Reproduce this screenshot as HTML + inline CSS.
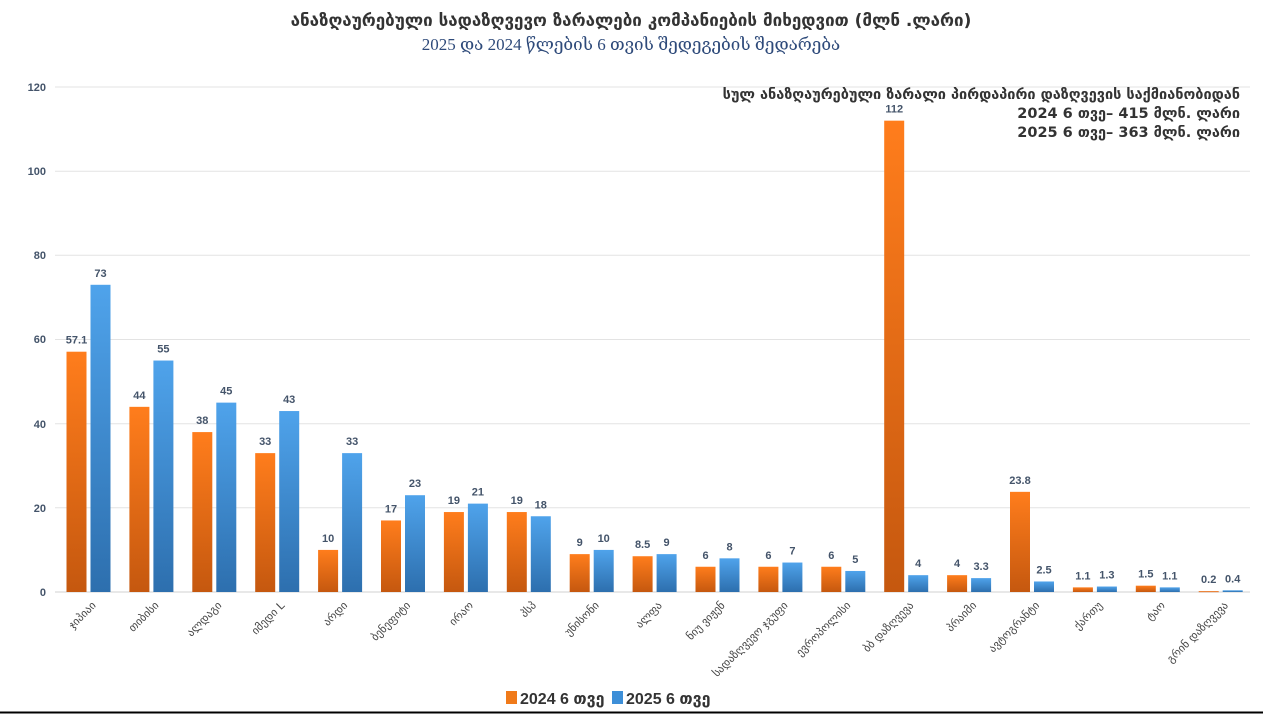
<!DOCTYPE html>
<html><head><meta charset="utf-8"><style>
body{margin:0;background:#fff;}
svg{display:block;font-family:"DejaVu Sans","Liberation Sans",sans-serif;}
</style></head><body>
<svg width="1263" height="714" viewBox="0 0 1263 714" xmlns="http://www.w3.org/2000/svg">
<defs>
<linearGradient id="o" x1="0" y1="0" x2="0" y2="1"><stop offset="0" stop-color="#ff7d1c"/><stop offset="1" stop-color="#c5580f"/></linearGradient>
<linearGradient id="b" x1="0" y1="0" x2="0" y2="1"><stop offset="0" stop-color="#4fa3eb"/><stop offset="1" stop-color="#2d6fae"/></linearGradient>
</defs>
<text x="631" y="26" text-anchor="middle" font-size="17" font-weight="bold" fill="#333">ანაზღაურებული სადაზღვევო ზარალები კომპანიების მიხედვით (მლნ .ლარი)</text>
<text x="631" y="50" text-anchor="middle" font-size="17" fill="#2e4a7a" font-family="Liberation Serif, DejaVu Serif, serif">2025 და 2024 წლების 6 თვის შედეგების შედარება</text>
<g font-size="11" font-weight="bold" fill="#44546a" font-family="Liberation Sans, sans-serif" text-anchor="end">
<text x="46" y="596">0</text><text x="46" y="512">20</text><text x="46" y="428">40</text><text x="46" y="343">60</text><text x="46" y="259">80</text><text x="46" y="175">100</text><text x="46" y="91">120</text>
</g>
<g stroke="#e3e3e3" stroke-width="1">
<line x1="55" x2="1250" y1="507.8" y2="507.8"/><line x1="55" x2="1250" y1="423.7" y2="423.7"/><line x1="55" x2="1250" y1="339.5" y2="339.5"/><line x1="55" x2="1250" y1="255.3" y2="255.3"/><line x1="55" x2="1250" y1="171.2" y2="171.2"/><line x1="55" x2="1250" y1="87" y2="87"/>
</g>
<line x1="55" x2="1250" y1="592" y2="592" stroke="#d0d0d0"/>
<g font-size="14.5" font-weight="bold" fill="#333" text-anchor="end">
<text x="1240" y="99">სულ ანაზღაურებული ზარალი პირდაპირი დაზღვევის საქმიანობიდან</text>
<text x="1240" y="118">2024 6 თვე– 415 მლნ. ლარი</text>
<text x="1240" y="137">2025 6 თვე– 363 მლნ. ლარი</text>
</g>
<g id="bars"></g>
<g font-size="11" font-weight="bold" fill="#44546a" font-family="Liberation Sans, sans-serif" text-anchor="middle" id="vals"></g>
<g font-size="11" fill="#444" id="labs"></g>
<rect x="506" y="691" width="11" height="13" fill="#f07a1a"/>
<text x="520" y="704" font-size="16" font-weight="bold" fill="#333" font-family="Liberation Sans, DejaVu Sans, sans-serif">2024 6 თვე</text>
<rect x="612" y="691" width="11" height="13" fill="#3d8fd8"/>
<text x="626" y="704" font-size="16" font-weight="bold" fill="#333" font-family="Liberation Sans, DejaVu Sans, sans-serif">2025 6 თვე</text>
<line x1="0" x2="1263" y1="712.5" y2="712.5" stroke="#000" stroke-width="2"/>
</svg>
<script>
var d=[["ჯიპიაი",57.1,73],["თიბისი",44,55],["ალდაგი",38,45],["იმედი L",33,43],["არდი",10,33],["ბენეფიტი",17,23],["ირაო",19,21],["პსპ",19,18],["უნისონი",9,10],["ალფა",8.5,9],["ნიუ ვიჟენ",6,8],["სადაზღვევო ჯგუფი",6,7],["ევროპოლისი",6,5],["ბბ დაზღვევა",112,4],["პრაიმი",4,3.3],["ავტოგრანტი",23.8,2.5],["ქართუ",1.1,1.3],["ტაო",1.5,1.1],["გრინ დაზღვევა",0.2,0.4]];
var ns="http://www.w3.org/2000/svg",B=document.getElementById("bars"),V=document.getElementById("vals"),L=document.getElementById("labs");
function el(p,t,a,tx){var e=document.createElementNS(ns,t);for(var k in a)e.setAttribute(k,a[k]);if(tx!=null)e.textContent=tx;p.appendChild(e);}
var s=505/120;
d.forEach(function(r,i){var c=88.5+i*62.9;
[[r[1],c-22,"url(#o)"],[r[2],c+2,"url(#b)"]].forEach(function(q){var h=q[0]*s;
el(B,"rect",{x:q[1],y:592-h,width:20,height:Math.max(h,1),fill:q[2]});
el(V,"text",{x:q[1]+10,y:592-h-8},String(q[0]));});
el(L,"text",{x:c+8,y:606,"text-anchor":"end",transform:"rotate(-45 "+(c+8)+" 606)"},r[0]);
});
</script>
</body></html>
